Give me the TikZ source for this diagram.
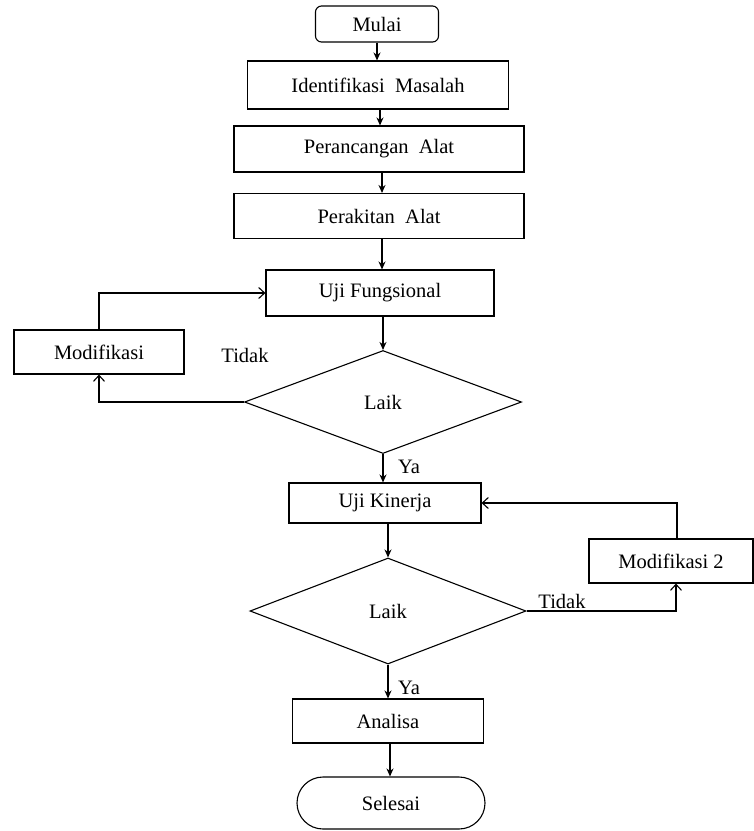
\documentclass[tikz,border=0pt]{standalone}
\usepackage{fontspec}
\setmainfont{Liberation Serif}
\usetikzlibrary{arrows.meta,shapes.geometric}
\tikzset{
    %Define standard arrow tip
    >={Stealth[length=8pt,width=7pt]},
    %Define style for boxes
    kotak/.style={
           rectangle,
           draw=black,
           line width=1.1pt,
           inner sep=0pt,
           text centered},
    % Define style for start and end
    ujung/.style={
           kotak,
           rounded corners=6pt},
    % Define style for decisions
    belah/.style={
           diamond,
           draw=black,
           line width=1.1pt,
           inner sep=0pt,
           aspect=2.7},
    % Define arrow style
    panah/.style={
           ->,
           line width=1.1pt},
    % Define arrow style for the way back
    balik/.style={
           -{Straight Barb[length=6pt,width=11pt]},
           line width=1.1pt}
}

\begin{document}
\begin{tikzpicture}[x=1pt,y=-1pt,font=\fontsize{20.5}{22}\selectfont]
  \useasboundingbox (0,0) rectangle (754,831);
  \node[ujung,minimum width=123pt,minimum height=36pt] (mulai) at (377,24) {Mulai};
  \node[kotak,minimum width=261pt,minimum height=48pt] (identifikasi) at (378,85) {Identifikasi\ \ Masalah};
  \node[kotak,minimum width=290pt,minimum height=46pt] (perancangan) at (379,149) {Perancangan\ \ Alat};
  \node[kotak,minimum width=290pt,minimum height=45pt] (perakitan) at (379,216) {Perakitan\ \ Alat};
  \node[kotak,minimum width=228pt,minimum height=46pt] (fungsional) at (380,293) {Uji Fungsional};
  \node[kotak,minimum width=170pt,minimum height=44pt] (modif) at (99,352) {Modifikasi};
  \node[belah,minimum width=277pt,minimum height=103pt] (laik) at (383,402) {Laik};
  \node[kotak,minimum width=192pt,minimum height=40pt] (kinerja) at (385,503) {Uji Kinerja};
  \node[kotak,minimum width=164pt,minimum height=44pt] (modifdua) at (671,561) {Modifikasi 2};
  \node[belah,minimum width=276pt,minimum height=106pt] (laikdua) at (388,611) {Laik};
  \node[kotak,minimum width=191pt,minimum height=44pt] (analisa) at (388,721) {Analisa};
  \node[kotak,rounded corners=26pt,minimum width=188pt,minimum height=52pt] (selesai) at (391,803) {Selesai};

  \node (tidak) at (245,355) {Tidak};
  \node (ya) at (409,467) {Ya};
  \node (tidakdua) at (562,601) {Tidak};
  \node (yadua) at (409,688) {Ya};

  \draw[panah] (mulai.south) -- (mulai.south |- identifikasi.north);
  \draw[panah] ([xshift=2pt]identifikasi.south) -- ([xshift=2pt]identifikasi.south |- perancangan.north);
  \draw[panah] ([xshift=3pt]perancangan.south) -- ([xshift=3pt]perancangan.south |- perakitan.north);
  \draw[panah] ([xshift=3pt]perakitan.south) -- ([xshift=3pt]perakitan.south |- fungsional.north);
  \draw[panah] ([xshift=3pt]fungsional.south) -- (laik.north);
  \draw[panah] (laik.south) -- (laik.south |- kinerja.north);
  \draw[panah] (laikdua.north |- kinerja.south) -- (laikdua.north);
  \draw[panah] (laikdua.south) -- (laikdua.south |- analisa.north);
  \draw[panah] ([xshift=2pt]analisa.south) -- ([xshift=2pt]analisa.south |- selesai.north);

  \draw[balik] (laik.west) -| (modif.south);
  \draw[balik] (modif.north) |- (fungsional.west);
  \draw[balik] (laikdua.east) -| ([xshift=5pt]modifdua.south);
  \draw[balik] ([xshift=6pt]modifdua.north) |- (kinerja.east);
\end{tikzpicture}
\end{document}
